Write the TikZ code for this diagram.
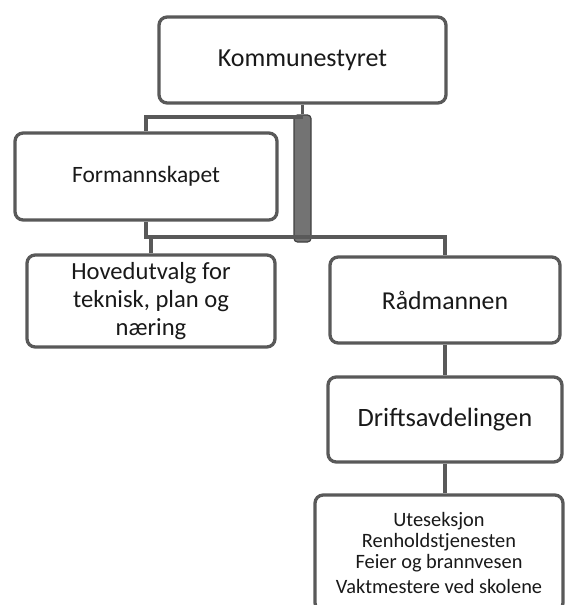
\documentclass[tikz,border=0pt]{standalone}
\usepackage{fontspec}
\setmainfont{Carlito}
\usetikzlibrary{positioning}

\tikzset{
  orgbox/.style={draw=black!65, line width=2.8pt, rounded corners=7pt, fill=white,
    align=center, inner sep=0pt, text=black!90},
  link/.style={draw=black!65, line width=3pt},
  spine/.style={draw=black!75, fill=black!55, line width=1pt, rounded corners=3pt,
    inner sep=0pt, minimum width=0.51cm, minimum height=3.81cm},
}

\begin{document}
\begin{tikzpicture}[x=0.03cm,y=-0.03cm]
  \useasboundingbox (0,0) rectangle (566,605);
  \clip (0,0) rectangle (566,605);

  \node[orgbox, minimum width=8.61cm, minimum height=2.58cm,
    font=\fontsize{22.2}{26}\selectfont] (kom) at (302.5,60) {Kommunestyret};
  \node[spine] (bar) at (302.5,178.5) {};
  \node[orgbox, minimum width=7.86cm, minimum height=2.61cm,
    font=\fontsize{20}{24}\selectfont] (form) at (146,176.5) {Formannskapet};
  \node[orgbox, minimum width=7.44cm, minimum height=2.76cm,
    font=\fontsize{21}{24}\selectfont] (hoved) at (151,301) {Hovedutvalg for\\teknisk, plan og\\næring};
  \node[orgbox, minimum width=6.9cm, minimum height=2.58cm,
    font=\fontsize{22}{26}\selectfont] (rad) at (445,300) {Rådmannen};
  \node[orgbox, minimum width=7.02cm, minimum height=2.55cm,
    font=\fontsize{22.6}{26}\selectfont] (drift) at (445,419.5) {Driftsavdelingen};
  \node[orgbox, minimum width=7.44cm, minimum height=3.48cm,
    font=\fontsize{17.4}{18}\selectfont] (ute) at (439,553)
    {Uteseksjon\\Renholdstjenesten\\Feier og brannvesen\\[3pt]Vaktmestere ved skolene};

  \coordinate (jt) at (302.5,117);
  \coordinate (jb) at (302.5,237);
  \draw[link] (kom.south) -- (bar.north);
  \draw[link] (jt) -| (form.north);
  \draw[link] (form.south) |- (jb);
  \draw[link] (jb) -| (rad.north);
  \draw[link] (hoved.north) -- (hoved.north |- jb);
  \draw[link] (rad.south) -- (drift.north);
  \draw[link] (drift.south) -- (drift.south |- ute.north);
\end{tikzpicture}
\end{document}
